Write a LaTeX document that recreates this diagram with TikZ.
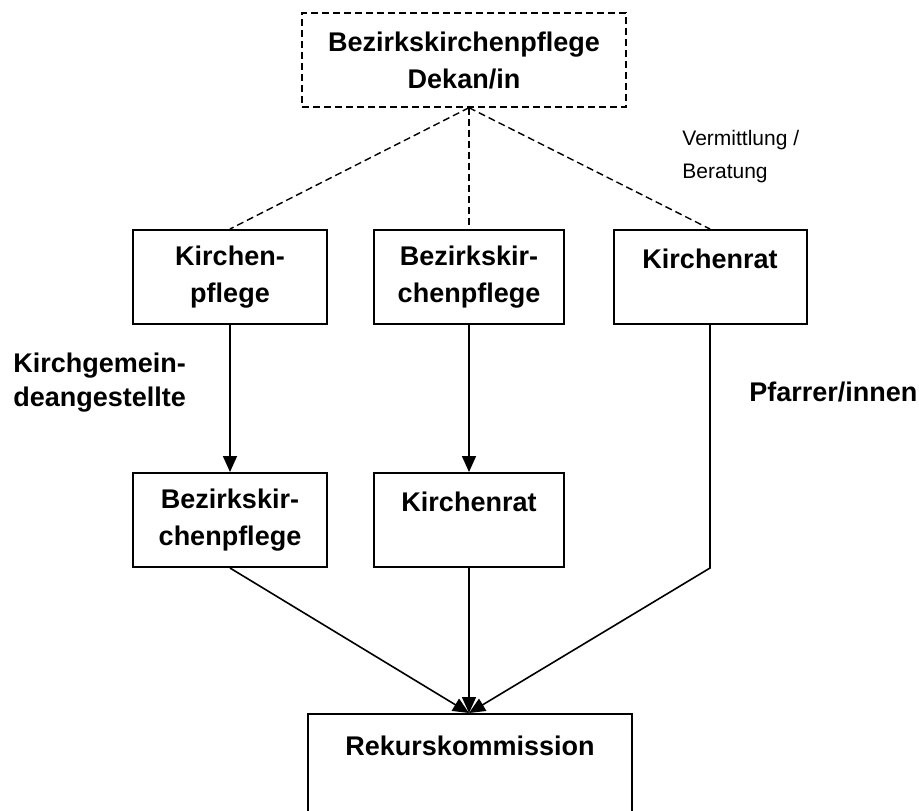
\documentclass[tikz,border=0pt]{standalone}
\usepackage{fontspec}
\setmainfont{Liberation Sans}
\usetikzlibrary{arrows.meta}

\tikzset{
  box/.style={draw, line width=1pt, minimum width=97pt, minimum height=47pt,
    align=center, inner sep=0pt, font=\fontsize{13.5}{18.5}\selectfont\bfseries},
  lab/.style={align=left, inner sep=0pt, font=\fontsize{13.5}{17}\selectfont\bfseries},
  rel/.style={line width=0.8pt, -{Triangle[length=8pt,width=7pt]}},
  aufsicht/.style={line width=0.7pt, dash pattern=on 3.5pt off 2pt},
}

\begin{document}
\begin{tikzpicture}[x=0.5pt,y=-0.5pt]
        \useasboundingbox (0,0) rectangle (919,810);
        % oben
        \node[box, aufsicht, minimum width=162pt] (bkp) at (464,60) {Bezirkskirchenpflege\\Dekan/in};
        % erste Ebene
        \node[box] (kp) at (230,277) {Kirchen-\\pflege};
        \node[box, minimum width=95pt] (bkp2) at (469,277) {Bezirkskir-\\chenpflege};
        \node[box, minimum width=96.5pt] (kr) at (710,277) {Kirchenrat\\~};
        % zweite Ebene
        \node[box] (bkp3) at (230,520) {Bezirkskir-\\chenpflege};
        \node[box, minimum width=95pt] (kr2) at (469,520) {Kirchenrat\\~};
        % unten
        \node[box, minimum width=162pt, minimum height=50pt] (rk) at (470,764) {Rekurskommission\\~};
        % Beschriftungen
        \node[lab, anchor=west] (kga) at (13,383) {Kirchgemein-\\deangestellte};
        \node[lab, anchor=west] (pfr) at (749,392) {Pfarrer/innen};
        \node[anchor=west, align=left, inner sep=0pt, font=\fontsize{10.5}{16.5}\selectfont] (verm) at (682,157) {Vermittlung /\\Beratung};
        % Verbindungen
        \coordinate (spitze) at (bkp.south -| bkp2.north);
        \draw[aufsicht] (spitze) -- (kp.north);
        \draw[aufsicht] (spitze) -- (bkp2.north);
        \draw[aufsicht] (spitze) -- (kr.north);
        \draw[rel] (kp) -- (bkp3);
        \draw[rel] (bkp2) -- (kr2);
        \draw[rel] (bkp3.south) -- (rk.north -| kr2.south);
        \draw[rel] (kr2.south) -- (rk.north -| kr2.south);
        \draw[rel] (kr.south) -- (kr.south |- bkp3.south) -- (rk.north -| kr2.south);
    \end{tikzpicture}
\end{document}
